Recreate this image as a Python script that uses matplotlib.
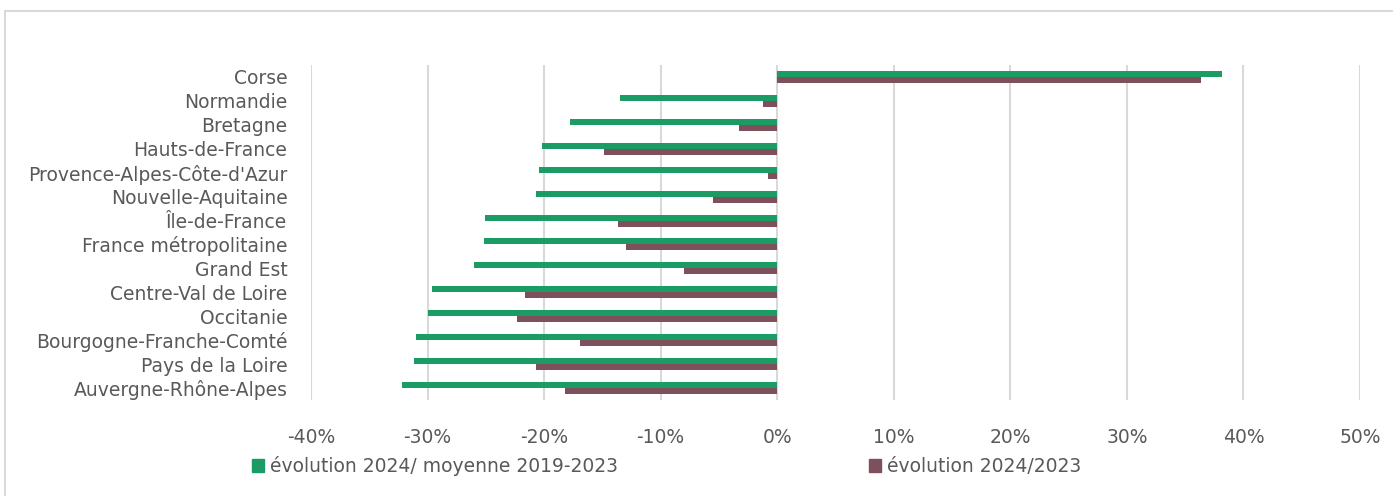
import numpy as np
import matplotlib.pyplot as plt
from matplotlib.patches import Rectangle, Patch

regions = ["Corse", "Normandie", "Bretagne", "Hauts-de-France",
           "Provence-Alpes-Côte-d'Azur", "Nouvelle-Aquitaine", "Île-de-France",
           "France métropolitaine", "Grand Est", "Centre-Val de Loire", "Occitanie",
           "Bourgogne-Franche-Comté", "Pays de la Loire", "Auvergne-Rhône-Alpes"]
evol_moy = [38.2, -13.5, -17.8, -20.2, -20.4, -20.7, -25.1, -25.2, -26.0,
            -29.6, -30.0, -31.0, -31.2, -32.2]
evol_2023 = [36.4, -1.25, -3.3, -14.9, -0.8, -5.5, -13.7, -13.0, -8.0,
             -21.6, -22.3, -16.9, -20.7, -18.2]
ticks = [-40, -30, -20, -10, 0, 10, 20, 30, 40, 50]
labels = ["évolution 2024/ moyenne 2019-2023", "évolution 2024/2023"]

green = "#1a9c64"
purple = "#7d505c"
txt = "#595959"

plt.rcParams['font.family'] = ['DejaVu Sans']
fs = 13.5

fig = plt.figure(figsize=(13.93, 4.96), dpi=100)
ax = fig.add_axes([311/1393, 1-400/496, (1360-311)/1393, (400-65)/496])

y = np.arange(len(regions))
h = 0.25
ax.barh(y - h/2, evol_moy, height=h, color=green)
ax.barh(y + h/2, evol_2023, height=h, color=purple)

ax.set_ylim(len(regions) - 0.5, -0.5)
ax.set_xlim(-40, 50)
ax.set_xticks(ticks)
ax.set_xticklabels([f"{t}%" for t in ticks])
ax.set_yticks(y)
ax.set_yticklabels(regions)
ax.tick_params(length=0, labelsize=fs, colors=txt)
ax.tick_params(axis='y', pad=17)
ax.tick_params(axis='x', pad=20)
ax.grid(axis='x', color="#d9d9d9", lw=1.5)
ax.set_axisbelow(True)
for s in ax.spines.values():
    s.set_visible(False)

handles = [Patch(color=green), Patch(color=purple)]
fig.legend(handles, labels, loc='center left', bbox_to_anchor=(252/1393, 1-466/496),
           ncol=2, frameon=False, fontsize=fs, labelcolor=txt,
           handlelength=0.65, handleheight=0.65, handletextpad=0.3,
           columnspacing=13.4, borderaxespad=0, borderpad=0)

fig.patches.append(Rectangle((5/1393, -0.05), 1.1, (496-11)/496 + 0.05,
                             transform=fig.transFigure, fill=False,
                             edgecolor="#d9d9d9", lw=1.5))

fig.savefig("out.png", dpi=100)
